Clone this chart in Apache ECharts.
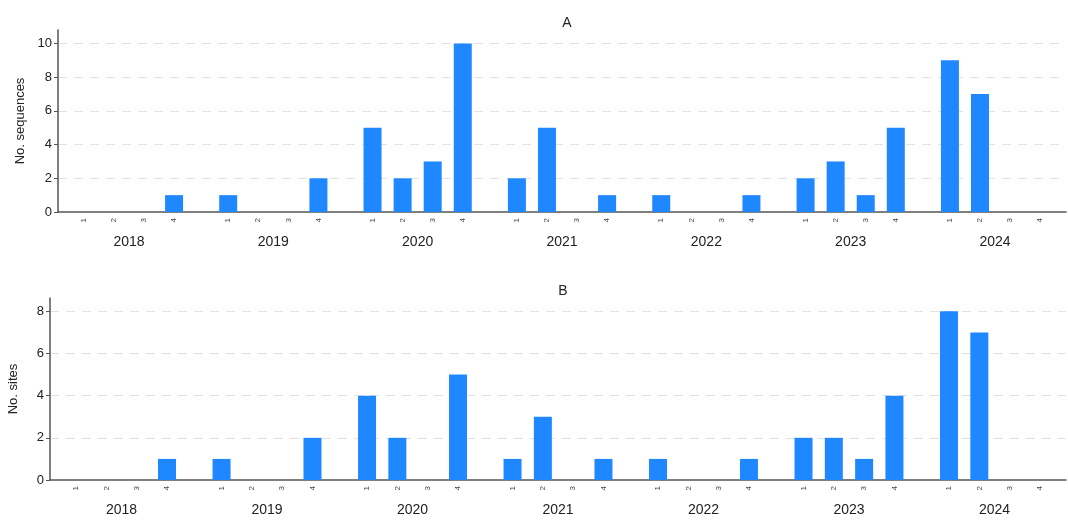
<!DOCTYPE html>
<html>
<head>
<meta charset="utf-8">
<script src="https://cdn.jsdelivr.net/npm/echarts@6/dist/echarts.min.js"></script>
<style>
  html, body { margin: 0; padding: 0; background: #fff; }
  #chart { width: 1068px; height: 521px; }
</style>
</head>
<body>
<div id="chart"></div>
<script>
// Quarterly counts per year, 2018–2024
const years = ['2018', '2019', '2020', '2021', '2022', '2023', '2024'];
const quarters = ['1', '2', '3', '4'];
const sequences = [
  [0, 0, 0, 1],
  [1, 0, 0, 2],
  [5, 2, 3, 10],
  [2, 5, 0, 1],
  [1, 0, 0, 1],
  [2, 3, 1, 5],
  [9, 7, 0, 0]
];
const sites = [
  [0, 0, 0, 1],
  [1, 0, 0, 2],
  [4, 2, 0, 5],
  [1, 3, 0, 1],
  [1, 0, 0, 1],
  [2, 2, 1, 4],
  [8, 7, 0, 0]
];
const sequenceTicks = [0, 2, 4, 6, 8, 10];
const siteTicks = [0, 2, 4, 6, 8];

// Layout of the x scale: quarters one unit apart, a wider gap between years
const YEAR_STRIDE = 4.8;
const PAD = 0.86;
const xOf = (yi, qi) => yi * YEAR_STRIDE + qi;
const X_MIN = -PAD;
const X_MAX = xOf(years.length - 1, quarters.length - 1) + PAD;

const quarterPos = [];
const quarterLab = [];
years.forEach((y, yi) => quarters.forEach((q, qi) => {
  quarterPos.push(xOf(yi, qi));
  quarterLab.push(q);
}));
const yearPos = years.map((y, yi) => xOf(yi, (quarters.length - 1) / 2));

function labelAt(positions, labels) {
  return v => {
    for (let i = 0; i < positions.length; i++) {
      if (Math.abs(positions[i] - v) < 1e-6) return labels[i];
    }
    return '';
  };
}

function barData(values) {
  const out = [];
  values.forEach((row, yi) => row.forEach((v, qi) => out.push([xOf(yi, qi), v])));
  return out;
}

const FONT = '"Liberation Sans", Arial, sans-serif';
const BAR = '#1f87ff';
const AXIS = '#555';

const panels = [
  { title: 'A', name: 'No. sequences', data: sequences, ticks: sequenceTicks, max: 10.8,
    grid: { left: 58, width: 1008, top: 30, height: 182 }, titleTop: 11 },
  { title: 'B', name: 'No. sites', data: sites, ticks: siteTicks, max: 8.63,
    grid: { left: 50, width: 1016, top: 298, height: 182 }, titleTop: 279 }
];

const option = {
  backgroundColor: '#fff',
  animation: false,
  textStyle: { fontFamily: FONT },
  title: panels.map(p => ({
    text: p.title,
    left: p.grid.left + p.grid.width / 2,
    textAlign: 'center',
    top: p.titleTop,
    textStyle: { fontFamily: FONT, fontSize: 14, fontWeight: 'normal', color: '#222' }
  })),
  grid: panels.map(p => Object.assign({ outerBoundsMode: 'none', containLabel: false }, p.grid)),
  xAxis: [],
  yAxis: [],
  series: []
};

panels.forEach((p, gi) => {
  // quarter axis
  option.xAxis.push({
    type: 'value', gridIndex: gi, min: X_MIN, max: X_MAX, position: 'bottom',
    axisLine: { show: true, onZero: false, lineStyle: { color: AXIS, width: 1.5 } },
    axisTick: { show: false },
    splitLine: { show: false },
    axisLabel: {
      customValues: quarterPos,
      formatter: labelAt(quarterPos, quarterLab),
      rotate: 90, fontSize: 8, color: '#444', margin: 6, fontFamily: FONT
    }
  });
  // year axis
  option.xAxis.push({
    type: 'value', gridIndex: gi, min: X_MIN, max: X_MAX, position: 'bottom',
    axisLine: { show: false, onZero: false },
    axisTick: { show: false },
    splitLine: { show: false },
    axisLabel: {
      customValues: yearPos,
      formatter: labelAt(yearPos, years),
      fontSize: 14, color: '#222', margin: 23, fontFamily: FONT
    }
  });
  option.yAxis.push({
    type: 'value', gridIndex: gi, min: 0, max: p.max, interval: 2, position: 'left',
    name: p.name, nameLocation: 'middle', nameRotate: 90, nameGap: 30,
    nameTextStyle: { fontFamily: FONT, fontSize: 13, color: '#222' },
    axisLine: { show: true, onZero: false, lineStyle: { color: AXIS, width: 1.5 } },
    axisTick: { show: true, length: 4, customValues: p.ticks, lineStyle: { color: AXIS } },
    axisLabel: { customValues: p.ticks, fontSize: 13, color: '#222', margin: 6, fontFamily: FONT },
    splitLine: {
      show: true, showMinLine: false, showMaxLine: true,
      lineStyle: { color: '#e2e2e2', type: [9, 7], width: 1 }
    }
  });
  option.series.push({
    type: 'bar',
    xAxisIndex: gi * 2,
    yAxisIndex: gi,
    barWidth: 18,
    itemStyle: { color: BAR },
    data: barData(p.data)
  });
});

const chart = echarts.init(document.getElementById('chart'), null, { renderer: 'canvas' });
chart.setOption(option);
</script>
</body>
</html>
